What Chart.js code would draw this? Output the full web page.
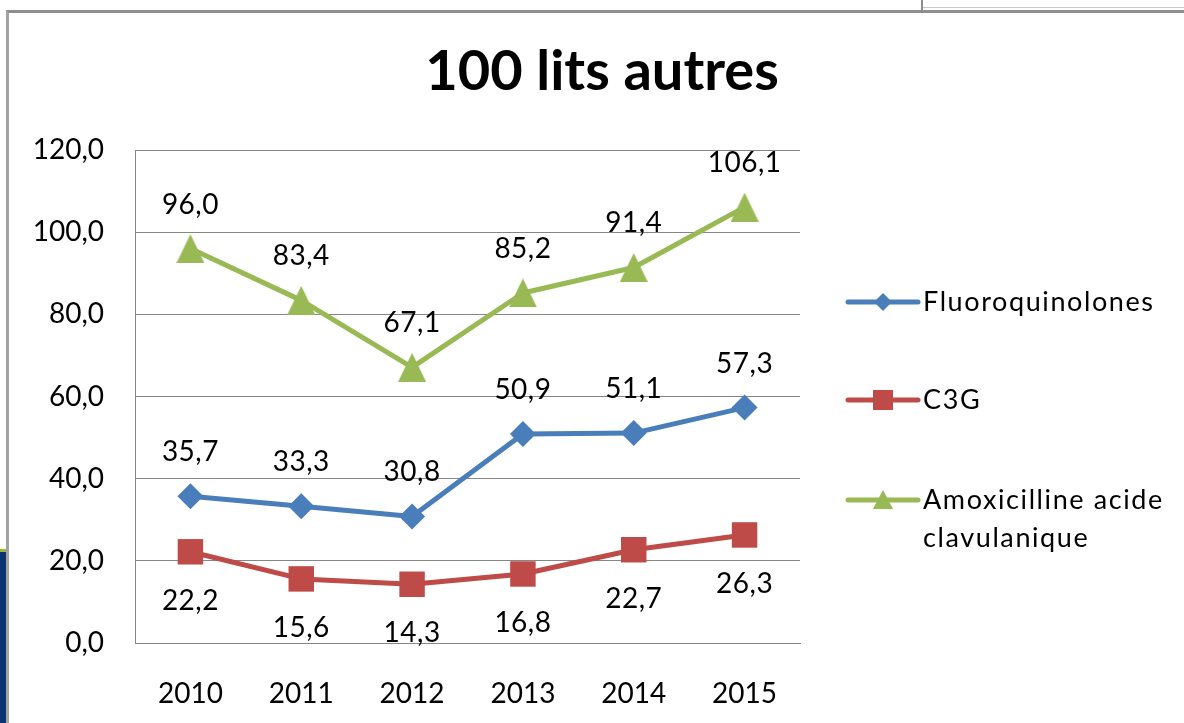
<!DOCTYPE html>
<html>
<head>
<meta charset="utf-8">
<script src="https://cdn.jsdelivr.net/npm/chart.js@4.4.1/dist/chart.umd.min.js"></script>
<style>
  html, body { margin: 0; padding: 0; background: #fff; }
  #wrap { position: relative; width: 1184px; height: 723px; overflow: hidden; background: #fff; }
  #chart { position: absolute; left: 0; top: 0; }
  .frame { position: absolute; left: 6px; top: 10px; width: 1300px; height: 800px;
           border-left: 3px solid #a3a3a3; border-top: 3px solid #8e8e8e; pointer-events: none; }
  .tab-v { position: absolute; left: 921px; top: 0; width: 2px; height: 10px; background: #8e8e8e; }
  .tab-h { position: absolute; left: 923px; top: 7px; width: 300px; height: 1px; background: #c8c8c8; }
  .slide { position: absolute; left: 0; top: 549px; width: 6px; height: 200px;
           background: #0b3271; border-top: 3px solid #9cbb3a; }
</style>
</head>
<body>
<div id="wrap">
  <canvas id="chart" width="1184" height="723"></canvas>
  <div class="slide"></div>
  <div class="frame"></div>
  <div class="tab-v"></div>
  <div class="tab-h"></div>
</div>
<script>
// Chart data
const years = ['2010', '2011', '2012', '2013', '2014', '2015'];
const fluoroquinolones = [35.7, 33.3, 30.8, 50.9, 51.1, 57.3];
const c3g = [22.2, 15.6, 14.3, 16.8, 22.7, 26.3];
const amoxicilline = [96.0, 83.4, 67.1, 85.2, 91.4, 106.1];
const yTickValues = [0, 20, 40, 60, 80, 100, 120];
const seriesNames = ['Fluoroquinolones', 'C3G', ['Amoxicilline acide', 'clavulanique']];
const chartTitle = '100 lits autres';

const BLUE = '#4a7ebb';
const RED = '#be4b48';
const GREEN = '#98b954';
const GRID = '#868686';
const FONT = 'Lato';

// French number format: 35,7
function frNum(v) {
    return v.toFixed(1).replace('.', ',');
}

// Triangle marker centred on its bounding box (like Excel)
function makeTriangle(w, h, color) {
    const c = document.createElement('canvas');
    c.width = w;
    c.height = h;
    const g = c.getContext('2d');
    g.fillStyle = color;
    g.beginPath();
    g.moveTo(w / 2, 0);
    g.lineTo(w, h);
    g.lineTo(0, h);
    g.closePath();
    g.fill();
    return c;
}

const triangleMarker = makeTriangle(28, 29, GREEN);

// Value labels above / below each point
const valueLabels = {
    id: 'valueLabels',
    afterDatasetsDraw(chart) {
        const ctx = chart.ctx;
        ctx.save();
        ctx.font = `28px ${FONT}`;
        ctx.letterSpacing = '0.5px';
        ctx.fillStyle = '#000';
        ctx.textAlign = 'center';
        ctx.textBaseline = 'alphabetic';
        chart.data.datasets.forEach((ds, i) => {
            const meta = chart.getDatasetMeta(i);
            meta.data.forEach((pt, j) => {
                const off = ds.labelPos === 'below' ? 58 : -35;
                ctx.fillText(frNum(ds.data[j]), pt.x, pt.y + off);
            });
        });
        ctx.restore();
    }
};

// Legend drawn at the right of the plot, with wrapped text
const sideLegend = {
    id: 'sideLegend',
    afterDraw(chart) {
        const ctx = chart.ctx;
        const area = chart.chartArea;
        const x0 = area.right + 48;
        const x1 = area.right + 118;
        const tx = area.right + 123;
        const rowY = [302, 400, 500];
        ctx.save();
        ctx.font = `27px ${FONT}`;
        ctx.letterSpacing = '1.6px';
        ctx.textAlign = 'left';
        ctx.textBaseline = 'alphabetic';
        chart.data.datasets.forEach((ds, i) => {
            const y = rowY[i];
            const cx = (x0 + x1) / 2;
            ctx.strokeStyle = ds.borderColor;
            ctx.lineWidth = 5;
            ctx.lineCap = 'round';
            ctx.beginPath();
            ctx.moveTo(x0, y);
            ctx.lineTo(x1, y);
            ctx.stroke();

            ctx.fillStyle = ds.borderColor;
            ctx.beginPath();
            if (i === 0) {
                ctx.moveTo(cx, y - 9);
                ctx.lineTo(cx + 9, y);
                ctx.lineTo(cx, y + 9);
                ctx.lineTo(cx - 9, y);
            } else if (i === 1) {
                ctx.rect(cx - 10, y - 10, 20, 20);
            } else {
                ctx.moveTo(cx, y - 10);
                ctx.lineTo(cx + 10, y + 9);
                ctx.lineTo(cx - 10, y + 9);
            }
            ctx.closePath();
            ctx.fill();

            ctx.fillStyle = '#000';
            const lines = [].concat(seriesNames[i]);
            lines.forEach((t, k) => ctx.fillText(t, tx, y + 9 + k * 38));
        });
        ctx.restore();
    }
};

const ctx = document.getElementById('chart').getContext('2d');
new Chart(ctx, {
    type: 'line',
    data: {
        labels: years,
        datasets: [
            {
                label: 'Fluoroquinolones',
                data: fluoroquinolones,
                borderColor: BLUE,
                backgroundColor: BLUE,
                pointStyle: 'rectRot',
                pointRadius: 13,
                pointHoverRadius: 13,
                labelPos: 'above'
            },
            {
                label: 'C3G',
                data: c3g,
                borderColor: RED,
                backgroundColor: RED,
                pointStyle: 'rect',
                pointRadius: 18,
                pointHoverRadius: 18,
                labelPos: 'below'
            },
            {
                label: 'Amoxicilline acide clavulanique',
                data: amoxicilline,
                borderColor: GREEN,
                backgroundColor: GREEN,
                pointStyle: triangleMarker,
                pointRadius: 14,
                pointHoverRadius: 14,
                labelPos: 'above'
            }
        ]
    },
    options: {
        responsive: false,
        animation: false,
        devicePixelRatio: 1,
        layout: { padding: { left: 20, right: 0, top: 0, bottom: 0 } },
        elements: {
            line: { borderWidth: 5, tension: 0, borderJoinStyle: 'round', borderCapStyle: 'round' },
            point: { borderWidth: 0 }
        },
        datasets: { line: { clip: false } },
        plugins: {
            legend: { display: false },
            tooltip: { enabled: false },
            title: {
                display: true,
                text: chartTitle,
                color: '#000',
                font: { family: FONT, size: 56, weight: 'bold', lineHeight: 1.2 },
                padding: { top: 38, bottom: 44.8 }
            }
        },
        scales: {
            x: {
                offset: true,
                grid: { display: false },
                border: { display: true, color: GRID, width: 1 },
                ticks: { color: '#000', font: { family: FONT, size: 28 }, padding: 26, maxRotation: 0 },
                afterFit(s) { s.height = 80; }
            },
            y: {
                min: 0,
                max: 120,
                afterBuildTicks(s) { s.ticks = yTickValues.map(v => ({ value: v })); },
                grid: { color: GRID, lineWidth: 1, drawTicks: false },
                border: { display: true, color: GRID, width: 1 },
                ticks: { color: '#000', font: { family: FONT, size: 28 }, padding: 31, callback: v => frNum(v) },
                afterFit(s) { s.width = 115; }
            },
            // empty axis that only reserves room for the legend
            legendSpace: {
                type: 'linear',
                position: 'right',
                display: true,
                grid: { display: false },
                border: { display: false },
                ticks: { display: false },
                afterFit(s) { s.width = 384; }
            }
        }
    },
    plugins: [valueLabels, sideLegend]
});
</script>
</body>
</html>
